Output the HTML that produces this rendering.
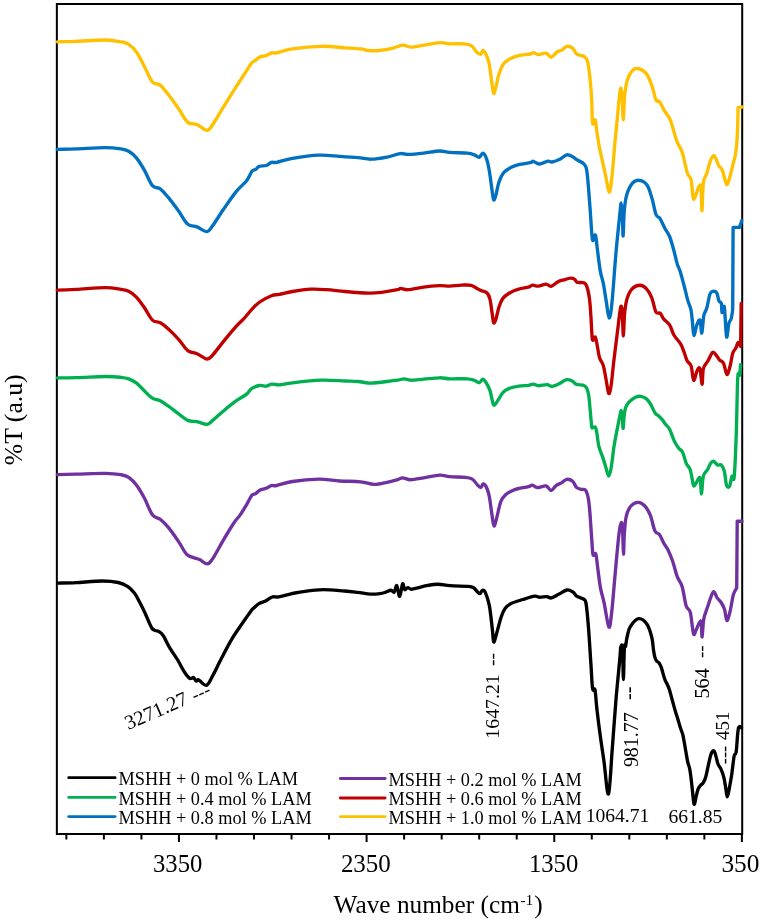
<!DOCTYPE html>
<html><head><meta charset="utf-8"><style>
html,body{margin:0;padding:0;background:#fff;}
body{width:762px;height:921px;overflow:hidden;}
svg{display:block;will-change:transform;}
text{font-family:"Liberation Serif",serif;fill:#000;}
.lg{font-size:18.3px;}
.tk{font-size:24px;}
.ax{font-size:25.3px;}
.an{font-size:18.5px;}
</style></head><body>
<svg width="762" height="921" viewBox="0 0 762 921">
<rect x="56.85" y="4.00" width="685.35" height="830.00" fill="none" stroke="#000" stroke-width="2"/>
<line x1="66.35" y1="834.0" x2="66.35" y2="839.5" stroke="#000" stroke-width="2"/>
<line x1="103.88" y1="834.0" x2="103.88" y2="839.5" stroke="#000" stroke-width="2"/>
<line x1="141.41" y1="834.0" x2="141.41" y2="839.5" stroke="#000" stroke-width="2"/>
<line x1="178.94" y1="834.0" x2="178.94" y2="842.0" stroke="#000" stroke-width="2"/>
<line x1="216.47" y1="834.0" x2="216.47" y2="839.5" stroke="#000" stroke-width="2"/>
<line x1="254.00" y1="834.0" x2="254.00" y2="839.5" stroke="#000" stroke-width="2"/>
<line x1="291.53" y1="834.0" x2="291.53" y2="839.5" stroke="#000" stroke-width="2"/>
<line x1="329.06" y1="834.0" x2="329.06" y2="839.5" stroke="#000" stroke-width="2"/>
<line x1="366.59" y1="834.0" x2="366.59" y2="842.0" stroke="#000" stroke-width="2"/>
<line x1="404.12" y1="834.0" x2="404.12" y2="839.5" stroke="#000" stroke-width="2"/>
<line x1="441.66" y1="834.0" x2="441.66" y2="839.5" stroke="#000" stroke-width="2"/>
<line x1="479.19" y1="834.0" x2="479.19" y2="839.5" stroke="#000" stroke-width="2"/>
<line x1="516.72" y1="834.0" x2="516.72" y2="839.5" stroke="#000" stroke-width="2"/>
<line x1="554.25" y1="834.0" x2="554.25" y2="842.0" stroke="#000" stroke-width="2"/>
<line x1="591.78" y1="834.0" x2="591.78" y2="839.5" stroke="#000" stroke-width="2"/>
<line x1="629.31" y1="834.0" x2="629.31" y2="839.5" stroke="#000" stroke-width="2"/>
<line x1="666.84" y1="834.0" x2="666.84" y2="839.5" stroke="#000" stroke-width="2"/>
<line x1="704.37" y1="834.0" x2="704.37" y2="839.5" stroke="#000" stroke-width="2"/>
<line x1="741.90" y1="834.0" x2="741.90" y2="842.0" stroke="#000" stroke-width="2"/>
<path d="M57.3,41.8 C60.4,41.7 68.2,41.6 76.2,41.3 C84.2,41.0 97.6,39.9 105.1,40.0 C112.5,40.1 117.0,41.1 120.9,41.8 C124.8,42.5 126.1,42.6 128.7,44.4 C131.3,46.1 134.0,48.6 136.6,52.3 C139.2,56.0 141.9,61.8 144.5,66.7 C147.1,71.7 149.8,78.9 152.4,82.0 C155.0,85.1 157.6,83.0 160.2,85.1 C162.8,87.1 165.0,90.4 168.1,94.3 C171.2,98.2 175.3,104.0 178.6,108.7 C181.9,113.4 184.7,119.8 187.8,122.4 C190.9,125.0 193.8,123.2 197.0,124.5 C200.2,125.8 204.4,130.3 207.0,130.3 C209.6,130.3 210.0,128.3 212.7,124.5 C215.4,120.7 219.2,113.8 223.2,107.4 C227.1,101.1 232.5,92.5 236.4,86.4 C240.3,80.3 244.0,74.6 246.6,70.7 C249.2,66.8 250.3,64.5 251.8,62.8 C253.3,61.0 254.4,61.2 255.7,60.2 C257.0,59.2 257.9,57.8 259.7,57.0 C261.4,56.2 264.2,56.4 266.2,55.7 C268.2,55.0 269.8,53.3 271.5,52.8 C273.2,52.3 273.2,53.4 276.7,52.8 C280.2,52.1 285.1,50.0 292.5,48.9 C299.9,47.8 312.6,46.5 321.4,46.3 C330.1,46.1 338.4,47.4 345.0,47.8 C351.6,48.2 356.8,48.4 360.7,48.9 C364.6,49.4 365.5,50.2 368.6,50.5 C371.7,50.8 375.2,50.9 379.1,50.5 C383.0,50.1 388.3,49.3 392.2,48.4 C396.1,47.5 399.6,45.4 402.7,45.2 C405.8,45.0 407.1,47.1 410.6,47.1 C414.1,47.1 418.9,46.0 423.7,45.2 C428.5,44.5 435.2,42.8 439.5,42.6 C443.8,42.4 445.7,43.6 449.7,43.8 C453.7,44.0 459.9,43.5 463.5,43.8 C467.1,44.1 469.0,44.2 471.3,45.7 C473.6,47.2 475.6,51.2 477.2,52.6 C478.8,54.0 479.8,54.6 480.8,54.2 C481.8,53.8 482.2,50.2 483.1,50.3 C484.0,50.4 485.1,52.4 486.1,54.6 C487.1,56.8 488.2,59.1 489.1,63.5 C490.0,67.9 490.9,76.2 491.6,81.2 C492.4,86.2 492.9,92.4 493.6,93.4 C494.3,94.4 495.0,90.3 495.9,87.1 C496.8,83.9 497.6,78.2 498.9,74.3 C500.2,70.4 501.8,66.1 503.8,63.5 C505.8,60.9 508.2,59.8 510.7,58.5 C513.2,57.2 515.3,56.4 518.6,55.6 C521.9,54.9 528.0,54.5 530.4,54.0 C532.8,53.5 532.0,52.5 533.3,52.6 C534.6,52.7 536.2,54.5 538.3,54.6 C540.4,54.7 544.0,52.8 546.1,53.2 C548.2,53.6 549.3,57.4 551.1,57.2 C552.9,57.0 555.2,53.2 557.0,52.0 C558.8,50.8 560.3,51.1 561.9,50.1 C563.5,49.1 565.0,46.6 566.8,46.3 C568.6,46.0 571.1,47.0 572.7,48.3 C574.4,49.6 574.8,52.6 576.7,54.0 C578.6,55.4 582.1,55.4 583.9,56.5 C585.7,57.6 586.4,57.3 587.4,60.9 C588.4,64.5 589.3,71.5 590.0,78.2 C590.7,84.9 591.3,93.3 591.7,100.8 C592.1,108.3 592.0,120.2 592.6,123.4 C593.2,126.6 594.5,118.5 595.2,119.9 C595.9,121.4 596.2,127.5 596.9,132.1 C597.6,136.7 598.6,143.1 599.5,147.7 C600.4,152.3 601.1,155.3 602.1,159.9 C603.1,164.5 604.4,170.2 605.6,175.5 C606.8,180.8 608.1,191.4 609.1,192.0 C610.1,192.6 610.8,186.9 611.7,179.0 C612.7,171.1 613.8,155.3 614.8,144.3 C615.8,133.3 617.0,121.1 617.8,113.0 C618.6,104.9 619.0,99.8 619.5,95.6 C620.0,91.4 620.3,87.8 620.7,87.8 C621.1,87.8 621.7,90.2 622.1,95.6 C622.5,100.9 622.9,119.9 623.3,119.9 C623.7,119.9 624.0,102.2 624.7,95.6 C625.4,88.9 626.0,84.2 627.3,80.0 C628.6,75.8 630.7,72.3 632.6,70.4 C634.5,68.5 636.3,68.1 638.6,68.7 C640.9,69.3 644.3,71.2 646.5,73.9 C648.7,76.7 650.1,80.9 651.7,85.2 C653.3,89.5 654.7,97.2 656.0,100.0 C657.3,102.8 658.0,99.8 659.5,101.7 C661.0,103.6 663.0,108.3 664.7,111.2 C666.4,114.1 668.4,115.8 669.9,119.0 C671.4,122.2 672.3,126.5 673.5,130.3 C674.7,134.1 675.6,138.1 677.0,141.6 C678.4,145.1 680.6,147.9 681.9,151.4 C683.2,154.9 683.8,158.9 684.8,162.7 C685.8,166.5 686.5,171.2 687.6,174.0 C688.7,176.8 690.2,175.7 691.1,179.7 C692.0,183.7 692.5,195.2 693.2,198.0 C693.9,200.8 694.3,198.5 695.3,196.6 C696.2,194.7 697.9,188.2 698.9,186.7 C699.9,185.2 700.5,183.4 701.0,187.4 C701.5,191.4 701.6,211.5 702.0,210.7 C702.4,209.9 702.6,188.6 703.4,182.5 C704.2,176.4 705.5,177.5 706.6,174.0 C707.7,170.5 709.0,164.4 710.2,161.3 C711.4,158.2 712.7,155.9 713.7,155.7 C714.8,155.5 715.7,158.3 716.5,159.9 C717.3,161.5 717.7,163.8 718.6,165.5 C719.5,167.2 721.0,167.4 722.1,169.8 C723.2,172.2 724.2,177.2 725.0,179.7 C725.8,182.2 726.3,185.1 727.1,184.6 C727.9,184.1 728.9,180.5 729.9,176.8 C730.9,173.2 732.5,166.4 733.4,162.7 C734.3,158.9 734.9,158.5 735.5,154.3 C736.1,150.1 736.8,145.1 737.2,137.3 C737.6,129.5 738.0,112.6 738.1,107.7 C738.7,107.6 741.3,107.1 741.9,107.0" fill="none" stroke="#ffc000" stroke-width="3.35" stroke-linejoin="round" stroke-linecap="round"/>
<path d="M57.3,149.4 C60.4,149.3 68.2,149.2 76.2,148.9 C84.2,148.6 97.6,147.6 105.1,147.6 C112.5,147.6 117.0,148.3 120.9,148.9 C124.8,149.5 126.1,149.8 128.7,151.3 C131.3,152.8 134.0,154.9 136.6,158.1 C139.2,161.3 141.9,165.8 144.5,170.4 C147.1,175.0 149.8,182.6 152.4,185.7 C155.0,188.8 157.6,186.9 160.2,188.8 C162.8,190.7 165.0,193.5 168.1,197.2 C171.2,200.9 175.3,206.6 178.6,211.1 C181.9,215.6 184.7,221.6 187.8,224.2 C190.9,226.8 193.8,225.7 197.0,226.9 C200.2,228.1 204.4,231.8 207.0,231.6 C209.6,231.4 210.0,229.2 212.7,225.6 C215.4,222.0 219.2,215.5 223.2,209.8 C227.1,204.1 232.5,196.2 236.4,191.4 C240.3,186.6 244.0,184.0 246.6,180.7 C249.2,177.4 250.3,173.4 251.8,171.5 C253.3,169.6 254.4,170.3 255.7,169.4 C257.0,168.5 257.9,166.8 259.7,166.2 C261.4,165.5 264.2,166.2 266.2,165.5 C268.2,164.8 269.8,162.8 271.5,162.3 C273.2,161.8 273.2,163.0 276.7,162.3 C280.2,161.7 285.5,159.6 292.5,158.4 C299.5,157.2 310.8,155.5 318.7,155.2 C326.6,154.8 333.1,155.9 339.7,156.3 C346.3,156.7 352.9,157.1 358.1,157.6 C363.4,158.1 366.4,159.3 371.2,159.2 C376.0,159.1 382.2,158.0 387.0,157.1 C391.8,156.2 396.6,154.0 400.1,153.6 C403.6,153.2 404.1,154.5 408.0,154.4 C411.9,154.3 418.4,153.7 423.7,153.1 C428.9,152.5 435.2,151.1 439.5,151.0 C443.8,150.9 445.1,152.0 449.7,152.4 C454.3,152.8 463.3,152.8 467.4,153.2 C471.5,153.6 472.3,154.1 474.3,154.8 C476.3,155.5 477.8,157.6 479.2,157.3 C480.6,157.0 481.6,153.1 482.8,153.2 C484.0,153.3 485.1,155.0 486.1,157.7 C487.2,160.4 488.2,164.6 489.1,169.5 C490.0,174.4 490.9,182.2 491.6,187.2 C492.4,192.2 492.9,198.3 493.6,199.6 C494.3,200.9 495.0,198.0 495.9,195.1 C496.8,192.2 497.6,186.1 498.9,182.3 C500.2,178.5 501.8,174.9 503.8,172.5 C505.8,170.1 508.2,168.9 510.7,167.6 C513.2,166.3 515.3,165.4 518.6,164.6 C521.9,163.8 528.0,163.1 530.4,162.6 C532.8,162.1 531.8,161.1 533.3,161.3 C534.8,161.5 536.8,164.0 539.3,164.0 C541.8,164.0 546.0,161.4 548.1,161.1 C550.2,160.8 550.0,162.3 552.0,162.0 C554.0,161.7 557.4,160.5 559.9,159.3 C562.4,158.1 564.7,155.2 566.8,154.8 C568.9,154.4 571.1,155.9 572.7,156.7 C574.4,157.5 574.9,158.5 576.7,159.7 C578.5,160.9 582.1,162.1 583.7,163.7 C585.4,165.3 585.8,165.3 586.6,169.5 C587.4,173.7 588.0,181.6 588.6,189.1 C589.2,196.6 589.9,206.0 590.5,214.5 C591.1,223.0 591.7,236.5 592.5,239.9 C593.3,243.3 594.6,233.4 595.4,235.0 C596.2,236.6 596.6,243.6 597.4,249.6 C598.2,255.6 599.3,265.6 600.3,271.1 C601.3,276.7 602.2,278.0 603.2,282.9 C604.2,287.8 605.1,294.5 606.1,300.4 C607.1,306.2 608.1,317.7 609.1,318.0 C610.1,318.3 610.9,313.1 612.0,302.4 C613.1,291.7 614.6,268.2 615.9,253.6 C617.2,238.9 618.9,223.0 619.8,214.5 C620.7,206.0 620.8,202.8 621.2,202.8 C621.6,202.8 622.1,209.0 622.4,214.5 C622.7,220.0 622.8,236.7 623.1,236.0 C623.4,235.3 623.7,217.4 624.3,210.6 C624.9,203.8 625.3,199.5 626.7,194.9 C628.1,190.3 630.4,185.6 632.5,183.2 C634.6,180.8 636.9,180.0 639.4,180.3 C641.9,180.6 645.1,182.1 647.2,185.2 C649.3,188.3 650.6,193.9 652.1,198.8 C653.6,203.7 654.7,211.2 656.0,214.5 C657.3,217.8 658.4,216.1 659.9,218.4 C661.4,220.7 663.2,225.2 664.8,228.2 C666.4,231.2 668.2,233.1 669.6,236.5 C671.0,239.9 672.1,244.1 673.4,248.7 C674.7,253.3 676.1,260.1 677.2,263.9 C678.3,267.7 679.1,267.9 680.2,271.5 C681.3,275.1 682.7,280.4 684.0,285.2 C685.3,290.0 686.6,296.3 687.8,300.4 C688.9,304.4 690.1,305.9 690.9,309.5 C691.7,313.1 691.9,317.4 692.4,321.7 C692.9,326.0 693.1,334.9 693.9,335.4 C694.6,335.9 695.9,327.2 696.9,324.7 C697.9,322.2 699.2,318.8 700.0,320.2 C700.8,321.6 701.2,333.9 701.8,333.1 C702.4,332.3 703.0,319.8 703.8,315.6 C704.6,311.4 705.8,311.6 706.8,308.0 C707.8,304.4 708.9,297.1 709.9,294.3 C710.9,291.5 711.8,291.6 712.9,291.3 C714.0,291.1 715.7,291.2 716.7,292.8 C717.7,294.4 718.2,299.3 719.0,301.1 C719.8,302.9 720.8,301.5 721.3,303.4 C721.8,305.3 721.6,311.9 722.0,312.5 C722.4,313.1 723.2,307.7 723.6,307.2 C724.0,306.7 724.1,304.6 724.6,309.5 C725.1,314.4 725.9,334.6 726.6,336.9 C727.3,339.2 728.1,326.2 728.9,323.2 C729.7,320.1 730.6,320.9 731.2,318.6 C731.8,316.3 732.5,311.0 732.7,309.5 C732.8,295.8 733.0,241.1 733.1,227.4 C734.2,227.4 738.4,227.4 739.5,227.4 C739.9,226.2 741.4,221.7 741.8,220.5" fill="none" stroke="#0070c0" stroke-width="3.35" stroke-linejoin="round" stroke-linecap="round"/>
<path d="M57.3,290.2 C60.4,290.1 68.2,289.8 76.2,289.4 C84.2,289.0 97.6,287.6 105.1,287.6 C112.5,287.6 117.0,288.8 120.9,289.4 C124.8,290.0 126.1,290.0 128.7,291.3 C131.3,292.6 134.0,294.6 136.6,297.3 C139.2,300.1 141.9,304.0 144.5,307.8 C147.1,311.6 149.8,317.6 152.4,320.1 C155.0,322.6 157.6,321.4 160.2,322.8 C162.8,324.2 165.0,326.1 168.1,328.8 C171.2,331.6 175.3,335.7 178.6,339.3 C181.9,342.9 184.7,348.2 187.8,350.6 C190.9,353.0 193.8,352.3 197.0,353.7 C200.2,355.1 204.4,358.8 207.0,359.0 C209.6,359.2 210.0,357.9 212.7,355.0 C215.4,352.1 219.2,346.7 223.2,341.9 C227.1,337.1 232.9,330.1 236.4,326.2 C239.9,322.3 241.3,321.4 243.9,318.6 C246.5,315.8 249.2,312.2 251.8,309.4 C254.4,306.6 256.4,304.3 259.7,302.0 C263.0,299.7 268.2,297.0 271.5,295.7 C274.8,294.4 275.9,295.1 279.4,294.4 C282.9,293.7 287.2,292.4 292.5,291.5 C297.8,290.6 305.2,289.5 310.9,289.2 C316.6,288.9 320.9,289.3 326.6,289.7 C332.3,290.1 338.0,290.9 345.0,291.5 C352.0,292.1 362.5,293.0 368.6,293.1 C374.7,293.2 376.9,292.9 381.7,292.3 C386.5,291.7 394.4,290.4 397.5,289.7 C400.6,289.0 398.9,288.4 400.6,288.4 C402.4,288.4 404.1,289.9 408.0,289.7 C411.9,289.5 418.4,287.8 423.7,287.1 C428.9,286.4 435.2,285.9 439.5,285.7 C443.8,285.5 446.0,286.2 449.7,286.1 C453.4,286.0 457.9,285.2 461.5,285.1 C465.1,285.0 468.7,284.7 471.3,285.3 C473.9,285.9 475.6,287.7 477.2,288.6 C478.8,289.5 479.5,289.9 481.2,290.6 C482.9,291.3 485.6,291.5 487.1,293.0 C488.6,294.5 489.2,296.2 490.0,299.4 C490.8,302.6 491.4,308.3 492.0,312.2 C492.6,316.1 493.0,321.5 493.6,322.7 C494.2,323.9 495.0,321.7 495.9,319.1 C496.8,316.5 497.8,310.7 498.9,307.3 C500.0,303.9 501.2,300.8 502.8,298.5 C504.4,296.2 506.1,295.1 508.7,293.5 C511.3,291.9 515.3,290.2 518.6,289.2 C521.9,288.1 526.1,287.9 528.4,287.2 C530.7,286.5 530.8,285.3 532.4,285.1 C534.0,284.9 536.0,286.3 538.3,286.1 C540.6,285.9 544.0,284.1 546.1,284.1 C548.2,284.1 549.1,286.7 551.1,286.3 C553.1,285.9 555.9,282.8 558.0,281.7 C560.1,280.6 561.8,280.4 563.9,279.8 C566.0,279.2 568.9,278.3 570.7,278.2 C572.5,278.1 573.6,278.7 574.7,279.4 C575.8,280.1 575.7,281.8 577.2,282.3 C578.7,282.9 582.1,282.1 583.7,282.7 C585.3,283.3 585.6,283.2 586.6,285.9 C587.6,288.6 588.8,293.8 589.5,298.9 C590.2,303.9 590.4,309.5 590.9,316.2 C591.4,322.9 591.7,335.8 592.4,339.3 C593.1,342.8 594.5,335.9 595.3,337.1 C596.1,338.3 596.7,343.0 597.4,346.5 C598.1,350.0 598.6,355.0 599.6,358.1 C600.6,361.2 602.1,361.7 603.2,365.3 C604.3,368.9 605.2,375.0 606.1,379.7 C607.0,384.4 607.9,392.4 608.7,393.4 C609.5,394.4 610.2,391.1 611.1,385.5 C612.0,379.9 612.9,368.6 614.0,359.5 C615.1,350.4 616.5,339.4 617.6,330.6 C618.7,321.8 620.0,309.4 620.8,306.8 C621.6,304.2 621.9,310.0 622.3,314.8 C622.7,319.6 623.0,335.9 623.4,335.7 C623.8,335.4 624.0,319.4 624.6,313.3 C625.2,307.2 625.8,303.0 627.0,298.9 C628.2,294.8 629.9,291.1 632.1,288.8 C634.3,286.5 637.6,285.2 640.0,285.2 C642.4,285.2 644.6,286.8 646.5,288.8 C648.4,290.8 650.0,293.5 651.6,297.4 C653.2,301.2 654.5,309.2 655.9,311.9 C657.3,314.5 658.9,312.1 660.2,313.3 C661.5,314.5 662.2,317.2 663.8,319.1 C665.4,321.0 667.9,322.2 669.6,324.9 C671.3,327.5 672.1,331.9 673.9,335.0 C675.7,338.1 678.9,341.0 680.6,343.8 C682.3,346.6 682.8,348.9 683.9,351.7 C685.0,354.5 685.9,358.4 687.1,360.8 C688.3,363.2 690.0,362.8 691.1,366.0 C692.2,369.2 692.7,379.4 693.7,380.3 C694.7,381.2 695.9,373.1 696.9,371.2 C697.9,369.2 699.0,366.4 699.9,368.6 C700.8,370.8 701.5,384.2 702.1,384.2 C702.7,384.2 702.4,372.5 703.4,368.6 C704.4,364.7 706.5,363.5 708.0,360.8 C709.5,358.1 711.2,353.2 712.6,352.3 C714.0,351.4 715.3,354.3 716.5,355.6 C717.7,356.9 718.5,358.8 719.7,360.1 C720.9,361.4 722.4,361.0 723.6,363.4 C724.8,365.8 725.8,374.1 726.9,374.5 C728.0,374.9 729.1,369.6 730.1,366.0 C731.1,362.4 731.8,356.0 732.8,353.0 C733.8,350.0 735.1,349.6 736.0,347.8 C736.9,346.1 737.2,342.7 738.0,342.5 C738.8,342.3 740.2,345.8 740.6,346.4 C740.7,339.2 741.1,310.6 741.2,303.5" fill="none" stroke="#c00000" stroke-width="3.35" stroke-linejoin="round" stroke-linecap="round"/>
<path d="M57.3,377.8 C60.4,377.8 68.2,377.8 76.2,377.6 C84.2,377.4 97.6,376.6 105.1,376.5 C112.5,376.4 117.0,376.9 120.9,377.3 C124.8,377.7 126.1,377.9 128.7,378.9 C131.3,379.9 134.0,381.1 136.6,383.1 C139.2,385.1 141.9,388.5 144.5,391.0 C147.1,393.5 149.8,396.5 152.4,398.1 C155.0,399.7 157.6,399.4 160.2,400.7 C162.8,402.0 165.0,403.7 168.1,405.9 C171.2,408.1 175.3,411.4 178.6,413.8 C181.9,416.2 184.7,419.1 187.8,420.4 C190.9,421.7 193.8,421.0 197.0,421.7 C200.2,422.4 204.4,424.5 207.0,424.3 C209.6,424.1 210.0,422.6 212.7,420.4 C215.4,418.2 219.2,414.5 223.2,411.2 C227.1,407.9 232.5,403.5 236.4,400.7 C240.3,397.9 244.0,396.2 246.6,394.1 C249.2,392.0 249.6,389.7 251.8,388.3 C254.0,386.9 257.3,385.9 259.7,385.5 C262.1,385.1 264.2,386.4 266.2,386.2 C268.2,386.0 269.3,384.3 271.5,384.1 C273.7,383.9 275.9,385.1 279.4,384.9 C282.9,384.7 285.5,383.6 292.5,382.8 C299.5,382.0 312.6,380.5 321.4,380.2 C330.1,379.9 338.9,380.8 345.0,381.0 C351.1,381.2 353.7,381.1 358.1,381.5 C362.5,381.9 366.4,383.1 371.2,383.1 C376.0,383.1 382.6,382.0 387.0,381.5 C391.4,381.0 394.7,380.6 397.5,380.2 C400.3,379.8 401.8,378.9 404.0,378.9 C406.2,378.9 407.3,380.1 410.6,380.2 C413.9,380.2 418.9,379.6 423.7,379.2 C428.5,378.8 435.2,377.9 439.5,377.8 C443.8,377.7 445.1,378.6 449.7,378.8 C454.3,379.0 463.3,378.5 467.4,378.8 C471.5,379.1 472.3,379.8 474.3,380.4 C476.3,381.0 477.8,382.9 479.2,382.7 C480.6,382.5 481.6,379.2 482.8,379.2 C484.0,379.2 484.9,380.8 486.1,382.7 C487.3,384.6 489.0,387.8 490.0,390.6 C491.0,393.4 491.3,396.9 492.0,399.4 C492.7,401.9 493.0,405.2 494.0,405.4 C495.0,405.6 496.4,402.5 497.9,400.4 C499.4,398.3 501.0,394.6 502.8,392.6 C504.6,390.6 506.1,389.7 508.7,388.6 C511.3,387.5 515.3,386.7 518.6,386.1 C521.9,385.6 526.0,385.6 528.4,385.3 C530.8,385.0 531.6,384.0 533.3,384.1 C534.9,384.2 536.0,385.6 538.3,385.7 C540.6,385.8 544.8,384.6 547.1,384.7 C549.4,384.8 549.9,386.5 552.0,386.3 C554.1,386.1 557.6,384.4 559.9,383.3 C562.2,382.2 563.8,380.2 565.8,379.8 C567.8,379.4 569.9,379.9 571.7,380.7 C573.5,381.5 574.6,383.6 576.5,384.4 C578.4,385.1 581.3,384.6 583.0,385.2 C584.7,385.8 585.6,386.2 586.6,388.0 C587.6,389.8 588.2,392.3 588.8,396.0 C589.4,399.7 589.7,405.3 590.2,410.4 C590.7,415.4 591.3,423.4 591.7,426.3 C592.1,429.2 592.2,427.6 592.8,427.7 C593.4,427.8 594.6,426.3 595.3,427.0 C595.9,427.7 596.1,428.9 596.7,432.1 C597.3,435.4 597.9,442.4 598.9,446.5 C599.9,450.6 601.3,453.0 602.5,456.6 C603.7,460.2 605.1,464.9 606.1,468.2 C607.1,471.4 607.9,476.1 608.7,476.1 C609.5,476.1 610.2,473.1 611.1,468.2 C612.0,463.3 613.0,452.8 614.0,446.5 C615.0,440.2 615.9,435.7 616.9,430.6 C617.9,425.6 619.1,419.6 619.8,416.2 C620.5,412.8 620.8,410.4 621.2,410.4 C621.6,410.4 622.0,413.2 622.3,416.2 C622.6,419.2 622.8,428.5 623.1,428.5 C623.4,428.5 623.7,419.7 624.1,416.2 C624.5,412.7 624.8,409.9 625.6,407.5 C626.5,405.1 627.6,403.5 629.2,401.8 C630.8,400.1 633.1,398.3 635.0,397.4 C636.9,396.5 638.8,396.1 640.7,396.3 C642.6,396.6 644.8,397.5 646.5,398.9 C648.2,400.3 649.3,402.2 650.8,404.6 C652.2,407.0 654.0,411.5 655.2,413.3 C656.4,415.1 656.9,414.4 658.1,415.5 C659.3,416.6 661.2,418.4 662.4,419.8 C663.6,421.2 664.1,422.5 665.3,424.1 C666.5,425.7 668.1,426.4 669.6,429.2 C671.1,431.9 672.6,437.4 674.1,440.6 C675.6,443.8 677.3,446.3 678.7,448.2 C680.1,450.1 681.2,449.5 682.5,452.0 C683.8,454.5 685.0,460.5 686.3,463.4 C687.6,466.3 689.1,466.7 690.1,469.5 C691.1,472.3 691.8,477.4 692.4,480.2 C693.0,483.0 693.1,485.9 693.9,486.2 C694.6,486.4 695.9,483.1 696.9,481.7 C697.9,480.3 699.2,475.9 700.0,477.9 C700.8,479.9 701.0,494.1 701.5,493.8 C702.0,493.5 702.3,480.4 703.3,476.3 C704.3,472.2 706.4,471.6 707.6,469.5 C708.8,467.4 709.6,464.8 710.6,463.4 C711.6,462.0 712.2,460.9 713.4,461.1 C714.5,461.4 716.2,464.3 717.5,464.9 C718.8,465.5 720.2,463.9 721.3,464.9 C722.4,465.9 723.4,467.6 724.3,471.0 C725.2,474.4 725.7,483.0 726.6,485.5 C727.5,488.0 728.7,487.7 729.6,486.2 C730.5,484.7 731.1,477.8 731.9,476.3 C732.7,474.8 733.5,483.8 734.2,477.1 C734.9,470.4 735.6,452.5 736.2,436.0 C736.8,419.5 737.2,388.4 737.7,378.3 C738.2,368.2 739.0,377.5 739.5,375.2 C740.0,372.9 740.4,366.4 740.6,364.7" fill="none" stroke="#00b050" stroke-width="3.35" stroke-linejoin="round" stroke-linecap="round"/>
<path d="M57.3,474.7 C60.4,474.6 68.2,474.4 76.2,474.2 C84.2,474.0 97.6,473.3 105.1,473.4 C112.5,473.5 117.0,474.0 120.9,474.7 C124.8,475.4 126.1,475.6 128.7,477.3 C131.3,479.1 134.0,481.7 136.6,485.2 C139.2,488.7 141.9,493.4 144.5,498.3 C147.1,503.2 149.8,511.3 152.4,514.8 C155.0,518.3 157.6,517.2 160.2,519.3 C162.8,521.4 165.0,523.5 168.1,527.2 C171.2,530.9 175.5,537.1 178.6,541.6 C181.7,546.1 184.1,551.6 186.5,554.2 C188.9,556.8 190.8,556.5 193.0,557.4 C195.2,558.3 197.3,558.4 199.6,559.5 C201.9,560.6 204.8,564.0 207.0,563.9 C209.2,563.8 210.0,562.6 212.7,558.7 C215.4,554.8 219.7,546.2 223.2,540.3 C226.7,534.4 230.9,527.4 233.7,523.2 C236.5,519.0 237.8,518.2 240.0,515.1 C242.2,512.0 244.6,507.9 246.6,504.6 C248.6,501.3 250.3,497.2 251.8,495.4 C253.3,493.6 254.4,494.5 255.7,493.6 C257.0,492.7 257.9,491.1 259.7,490.2 C261.4,489.3 264.2,489.1 266.2,488.3 C268.2,487.5 269.8,486.0 271.5,485.5 C273.2,485.0 273.2,486.2 276.7,485.5 C280.2,484.8 285.5,482.6 292.5,481.5 C299.5,480.4 310.8,479.3 318.7,479.2 C326.6,479.1 332.7,480.6 339.7,481.0 C346.7,481.4 355.0,481.2 360.7,481.8 C366.4,482.4 369.5,484.3 373.9,484.4 C378.3,484.5 383.1,483.1 387.0,482.3 C390.9,481.5 394.9,480.4 397.5,479.7 C400.1,478.9 400.5,477.8 402.7,477.8 C404.9,477.8 407.1,479.7 410.6,479.7 C414.1,479.7 418.9,478.6 423.7,477.8 C428.5,477.1 435.2,475.4 439.5,475.2 C443.8,475.0 445.4,476.3 449.7,476.7 C454.0,477.1 461.6,476.9 465.4,477.3 C469.2,477.7 470.3,477.9 472.3,479.1 C474.3,480.3 475.8,483.2 477.2,484.6 C478.6,486.0 479.8,487.7 480.8,487.6 C481.8,487.5 482.2,484.2 483.1,484.0 C484.0,483.8 485.1,484.7 486.1,486.6 C487.1,488.5 488.1,490.6 489.1,495.4 C490.1,500.1 491.2,510.0 492.0,515.1 C492.8,520.2 493.2,525.7 494.0,526.0 C494.8,526.3 495.8,521.2 496.9,517.1 C498.0,513.0 499.4,505.1 500.9,501.3 C502.4,497.5 503.8,496.2 505.8,494.4 C507.8,492.6 510.6,491.5 512.7,490.5 C514.8,489.5 516.0,489.1 518.6,488.5 C521.2,487.9 526.1,487.2 528.4,486.6 C530.7,486.1 530.9,485.0 532.4,485.2 C533.9,485.4 535.0,487.5 537.3,487.6 C539.6,487.7 543.8,485.5 546.1,486.0 C548.4,486.5 549.5,490.6 551.1,490.5 C552.8,490.4 554.2,486.9 556.0,485.6 C557.8,484.3 560.1,483.7 561.9,482.6 C563.7,481.6 565.0,479.5 566.8,479.3 C568.6,479.1 571.1,479.9 572.7,481.3 C574.4,482.7 575.2,486.2 576.7,487.6 C578.2,489.0 580.5,488.9 582.0,489.4 C583.5,489.8 584.6,488.6 585.7,490.3 C586.8,492.0 587.7,494.9 588.5,499.5 C589.3,504.1 589.8,511.2 590.3,518.0 C590.8,524.8 591.3,534.0 591.8,540.1 C592.3,546.2 592.4,552.6 593.1,554.9 C593.8,557.2 595.0,551.9 595.8,554.0 C596.6,556.1 596.9,562.1 597.7,567.8 C598.5,573.5 599.4,582.2 600.5,588.1 C601.6,594.0 602.7,596.4 604.1,602.9 C605.5,609.4 607.6,625.0 608.8,626.9 C610.0,628.8 610.4,622.9 611.5,614.0 C612.6,605.1 614.0,586.6 615.2,573.4 C616.4,560.2 617.9,543.1 618.9,534.6 C619.9,526.1 620.7,523.2 621.3,522.6 C621.9,522.0 622.2,525.7 622.6,530.9 C623.0,536.1 623.2,553.7 623.5,554.0 C623.8,554.3 623.9,539.1 624.4,532.8 C624.9,526.5 625.2,520.6 626.3,516.1 C627.4,511.6 628.9,508.3 630.9,506.0 C632.9,503.7 636.0,502.3 638.3,502.3 C640.6,502.3 642.8,503.9 644.8,506.0 C646.8,508.1 648.6,511.1 650.3,515.2 C652.0,519.4 653.4,527.7 654.9,530.9 C656.4,534.1 658.0,532.5 659.5,534.6 C661.0,536.8 662.7,541.3 664.1,543.8 C665.5,546.3 666.4,546.5 667.8,549.4 C669.2,552.3 671.0,556.5 672.6,561.0 C674.2,565.5 675.6,572.4 677.2,576.6 C678.8,580.8 680.6,581.5 682.1,586.4 C683.6,591.3 684.8,601.6 686.2,605.9 C687.6,610.2 689.1,607.8 690.3,612.4 C691.5,617.0 692.5,630.6 693.5,633.6 C694.5,636.6 695.0,632.1 696.0,630.3 C697.0,628.5 698.3,624.4 699.2,623.0 C700.1,621.6 700.7,619.9 701.2,622.2 C701.7,624.5 701.7,637.5 702.1,636.9 C702.5,636.3 702.9,623.8 703.8,618.9 C704.7,614.0 705.8,612.0 707.4,607.5 C709.0,603.0 711.5,593.7 713.1,592.1 C714.7,590.5 715.8,596.0 717.1,597.8 C718.5,599.5 720.0,600.7 721.2,602.6 C722.4,604.5 723.5,606.2 724.5,609.2 C725.5,612.2 725.9,620.3 726.9,620.6 C727.9,620.9 729.1,615.1 730.2,610.8 C731.3,606.4 732.3,598.3 733.4,594.5 C734.5,590.7 736.2,589.1 736.7,588.0 C736.8,576.9 737.1,532.3 737.2,521.2 C738.0,521.2 741.2,521.2 742.0,521.2" fill="none" stroke="#7030a0" stroke-width="3.35" stroke-linejoin="round" stroke-linecap="round"/>
<path d="M57.9,583.1 C61.0,583.0 68.8,583.0 76.2,582.6 C83.6,582.2 95.5,581.0 102.5,581.0 C109.5,581.0 114.0,581.6 118.2,582.5 C122.4,583.4 125.2,584.8 127.9,586.6 C130.6,588.4 132.4,590.5 134.4,593.1 C136.4,595.7 137.9,599.0 139.7,602.3 C141.4,605.6 143.4,609.5 144.9,612.8 C146.4,616.1 147.7,619.4 148.9,622.0 C150.1,624.6 151.1,627.2 152.2,628.6 C153.3,630.0 154.2,630.0 155.4,630.5 C156.6,631.0 158.1,630.9 159.4,631.8 C160.7,632.7 161.6,633.1 163.3,635.8 C165.1,638.5 167.5,644.2 169.9,648.2 C172.3,652.2 175.3,656.0 177.7,660.0 C180.1,664.0 182.4,668.9 184.3,671.9 C186.2,674.9 187.7,676.7 188.9,677.8 C190.1,678.9 190.7,678.5 191.5,678.4 C192.3,678.3 192.7,677.0 193.5,677.4 C194.3,677.8 195.3,680.6 196.1,681.0 C196.9,681.4 197.4,679.7 198.1,679.7 C198.8,679.7 198.6,680.1 200.0,681.0 C201.4,681.9 204.6,686.2 206.8,685.2 C209.0,684.2 210.7,679.3 213.1,675.0 C215.5,670.7 217.9,665.1 221.0,659.2 C224.1,653.3 228.0,645.5 231.5,639.6 C235.0,633.7 238.7,628.6 242.0,623.8 C245.3,619.0 249.2,613.3 251.2,610.7 C253.2,608.1 252.5,609.2 253.8,608.0 C255.1,606.8 257.0,604.8 259.0,603.6 C261.0,602.4 263.4,602.1 265.6,601.0 C267.8,599.9 270.0,597.7 272.2,597.0 C274.4,596.3 275.4,597.4 278.7,596.8 C282.0,596.2 287.5,594.5 291.9,593.6 C296.3,592.7 299.8,591.9 305.0,591.3 C310.2,590.6 316.8,589.8 323.4,589.7 C330.0,589.7 338.7,590.6 344.4,591.0 C350.1,591.4 353.1,591.8 357.5,592.3 C361.9,592.8 366.9,593.9 370.6,594.1 C374.4,594.3 377.6,593.9 380.0,593.6 C382.4,593.3 383.4,592.9 385.2,592.3 C387.0,591.7 389.5,590.2 391.0,590.2 C392.5,590.2 393.2,592.9 394.2,592.1 C395.2,591.3 395.9,584.8 396.8,585.5 C397.7,586.2 398.7,596.8 399.7,596.5 C400.7,596.2 401.8,584.8 402.6,583.7 C403.4,582.6 403.8,589.1 404.7,589.7 C405.6,590.4 406.7,587.7 407.8,587.6 C408.9,587.5 409.7,589.2 411.5,589.2 C413.3,589.2 416.3,588.2 418.8,587.6 C421.3,587.0 423.1,586.3 426.3,585.7 C429.5,585.1 434.2,584.2 438.1,584.2 C442.1,584.2 445.1,585.4 450.0,585.7 C454.9,586.1 463.8,586.0 467.7,586.3 C471.6,586.6 471.6,586.5 473.6,587.7 C475.6,588.9 478.0,593.2 479.5,593.6 C481.0,594.0 481.4,590.5 482.4,590.3 C483.4,590.1 484.2,590.1 485.4,592.6 C486.5,595.1 488.1,599.3 489.3,605.4 C490.5,611.5 491.6,622.9 492.3,629.0 C493.0,635.1 493.1,640.9 493.7,641.9 C494.3,642.9 495.0,639.1 496.2,635.0 C497.4,630.9 499.6,621.6 501.1,617.2 C502.6,612.8 503.5,610.7 505.1,608.4 C506.8,606.1 508.1,605.0 511.0,603.5 C514.0,602.0 518.9,600.7 522.8,599.5 C526.7,598.3 531.8,596.6 534.6,596.2 C537.4,595.8 537.6,597.1 539.6,597.2 C541.6,597.3 544.7,596.6 546.7,596.7 C548.7,596.8 549.5,598.3 551.5,597.9 C553.5,597.5 556.1,595.6 558.7,594.3 C561.3,593.0 564.6,590.4 567.0,590.0 C569.4,589.6 571.4,591.0 573.0,592.0 C574.6,593.0 574.8,595.0 576.6,596.2 C578.4,597.4 582.1,597.8 583.7,599.1 C585.3,600.4 585.3,599.1 586.1,603.9 C586.9,608.7 587.7,617.8 588.5,627.8 C589.3,637.8 590.2,653.5 590.9,663.6 C591.6,673.8 591.9,684.3 592.6,688.7 C593.3,693.1 594.3,686.5 595.0,689.9 C595.7,693.3 596.0,701.0 596.9,709.0 C597.8,717.0 599.3,728.9 600.5,737.6 C601.7,746.4 602.7,752.1 604.0,761.5 C605.3,770.9 607.1,796.4 608.5,794.0 C609.9,791.6 611.1,763.0 612.4,747.2 C613.6,731.4 614.8,713.7 616.0,699.4 C617.2,685.1 618.8,669.9 619.6,661.2 C620.4,652.6 620.4,649.8 620.6,647.5 C620.9,647.5 621.9,641.9 622.4,647.2 C622.9,652.5 623.1,679.5 623.4,679.5 C623.7,679.5 624.0,652.7 624.4,647.2 C624.8,641.7 625.4,646.6 625.6,646.5 C625.9,644.8 626.5,639.3 627.3,636.0 C628.1,632.7 628.4,629.5 630.3,626.6 C632.2,623.7 635.9,619.1 638.7,618.7 C641.5,618.3 644.8,621.1 647.0,624.2 C649.2,627.3 650.7,633.0 651.8,637.3 C652.9,641.6 653.0,646.7 653.5,650.0 C654.0,653.3 654.3,655.1 654.8,656.9 C655.3,658.7 655.8,659.9 656.5,660.9 C657.2,661.9 658.3,661.9 659.1,663.0 C659.9,664.1 660.6,665.7 661.3,667.4 C661.9,669.1 662.4,671.2 663.0,673.4 C663.6,675.6 664.5,678.5 665.2,680.4 C665.9,682.3 666.7,683.1 667.4,684.7 C668.1,686.3 668.7,687.4 669.5,689.9 C670.3,692.4 671.1,696.0 672.1,699.5 C673.1,703.0 674.3,707.7 675.2,710.8 C676.1,713.9 676.6,715.2 677.5,718.0 C678.4,720.8 679.5,725.0 680.4,727.8 C681.3,730.6 682.1,732.2 682.8,734.7 C683.4,737.2 683.8,739.7 684.3,742.5 C684.8,745.3 685.2,748.0 685.8,751.3 C686.4,754.5 687.1,759.1 687.7,762.0 C688.4,764.9 689.1,766.1 689.7,768.9 C690.3,771.7 690.6,774.8 691.1,778.7 C691.6,782.6 692.1,788.0 692.6,792.3 C693.1,796.6 693.5,803.5 694.1,804.3 C694.7,805.1 695.4,799.7 696.0,797.2 C696.6,794.7 697.3,791.4 698.0,789.4 C698.7,787.4 699.5,786.6 700.4,785.5 C701.3,784.4 702.4,784.1 703.3,782.6 C704.2,781.1 705.0,779.5 705.8,776.7 C706.6,773.9 707.4,769.5 708.2,765.9 C709.0,762.3 709.9,757.7 710.7,755.2 C711.5,752.7 712.4,751.1 713.1,750.8 C713.8,750.5 714.3,751.0 715.1,753.2 C715.9,755.4 717.0,761.4 718.0,764.0 C719.0,766.6 719.9,766.6 720.9,768.9 C721.9,771.2 723.1,774.5 723.9,777.7 C724.7,781.0 725.2,785.2 725.8,788.4 C726.4,791.6 726.7,796.9 727.3,796.9 C727.9,796.9 728.6,792.1 729.3,788.4 C730.0,784.7 730.9,780.1 731.7,774.7 C732.5,769.3 733.4,759.9 734.1,756.2 C734.8,752.5 735.5,755.9 736.1,752.3 C736.7,748.7 737.2,738.8 737.6,734.7 C738.0,730.6 738.1,729.2 738.5,727.8 C738.9,726.4 739.5,726.4 740.0,726.4 C740.5,726.4 741.2,727.6 741.5,727.8" fill="none" stroke="#000000" stroke-width="3.35" stroke-linejoin="round" stroke-linecap="round"/>
<line x1="68.7" y1="777.7" x2="115.1" y2="777.7" stroke="#000000" stroke-width="2.8" stroke-linecap="round"/>
<text x="118.6" y="784.9" class="lg">MSHH + 0 mol % LAM</text>
<line x1="68.7" y1="797.4" x2="115.1" y2="797.4" stroke="#00b050" stroke-width="2.8" stroke-linecap="round"/>
<text x="118.6" y="804.6" class="lg">MSHH + 0.4 mol % LAM</text>
<line x1="68.7" y1="816.6" x2="115.1" y2="816.6" stroke="#0070c0" stroke-width="2.8" stroke-linecap="round"/>
<text x="118.6" y="823.8" class="lg">MSHH + 0.8 mol % LAM</text>
<line x1="340.3" y1="778.5" x2="385.1" y2="778.5" stroke="#7030a0" stroke-width="2.8" stroke-linecap="round"/>
<text x="388.6" y="785.7" class="lg">MSHH + 0.2 mol % LAM</text>
<line x1="340.3" y1="798.0" x2="385.1" y2="798.0" stroke="#c00000" stroke-width="2.8" stroke-linecap="round"/>
<text x="388.6" y="805.2" class="lg">MSHH + 0.6 mol % LAM</text>
<line x1="340.3" y1="816.6" x2="385.1" y2="816.6" stroke="#ffc000" stroke-width="2.8" stroke-linecap="round"/>
<text x="388.6" y="823.8" class="lg">MSHH + 1.0 mol % LAM</text>
<text id="t3350" x="177.70" y="871.90" font-size="24.69" text-anchor="middle">3350</text>
<text id="t2350" x="365.85" y="872.20" font-size="24.97" text-anchor="middle">2350</text>
<text id="t1350" x="553.60" y="871.90" font-size="24.68" text-anchor="middle">1350</text>
<text id="t350" x="740.40" y="872.10" font-size="25.36" text-anchor="middle">350</text>
<text id="ytitle" transform="translate(21.50,419.80) rotate(-90.00)" font-size="25.73" text-anchor="middle">&#37;T (a.u)</text>
<text id="a3271" transform="translate(128.20,730.10) rotate(-23.50)" font-size="20.42" text-anchor="start">3271.27</text>
<text id="a3271d" transform="translate(194.70,701.80) rotate(-24.50)" font-size="19.00" text-anchor="start">---</text>
<text id="a1647" transform="translate(498.90,738.70) rotate(-90.00)" font-size="19.85" text-anchor="start">1647.21</text>
<text id="a1647d" transform="translate(497.50,666.00) rotate(-90.00)" font-size="19.50" text-anchor="start">--</text>
<text id="a981" transform="translate(637.90,767.10) rotate(-90.00)" font-size="19.94" text-anchor="start">981.77</text>
<text id="a981d" transform="translate(634.90,699.90) rotate(-90.00)" font-size="20.00" text-anchor="start">--</text>
<text id="a564" transform="translate(709.30,698.60) rotate(-90.00)" font-size="20.37" text-anchor="start">564</text>
<text id="a564d" transform="translate(706.90,658.10) rotate(-90.00)" font-size="19.00" text-anchor="start">--</text>
<text id="a451" transform="translate(728.60,740.00) rotate(-90.00)" font-size="18.98" text-anchor="start">451</text>
<text id="a451d" transform="translate(729.80,764.20) rotate(-90.00)" font-size="18.50" text-anchor="start">---</text>
<text id="a1064" x="585.70" y="821.90" font-size="19.58" text-anchor="start">1064.71</text>
<text id="a661" x="668.40" y="823.20" font-size="19.65" text-anchor="start">661.85</text>
<text id="xtitle" x="438.2" y="913" class="ax" text-anchor="middle">Wave number (cm<tspan dy="-8" dx="0.6" font-size="15.5">-1</tspan><tspan dy="8" dx="1">)</tspan></text>
</svg>
</body></html>
